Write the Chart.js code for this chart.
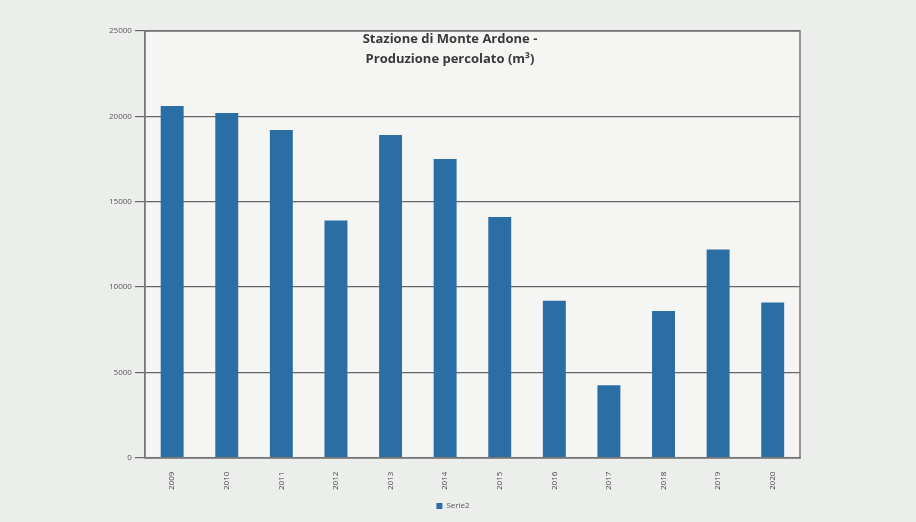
<!DOCTYPE html>
<html>
<head>
<meta charset="utf-8">
<script src="https://cdn.jsdelivr.net/npm/chart.js@4"></script>
<style>
    html, body { margin: 0; padding: 0; background: #eceeec; }
    .wrap { position: relative; width: 916px; height: 522px; }
    .chartTitle {
        position: absolute; left: 300px; top: 28px; width: 300px;
        text-align: center; font: bold 13px "Open Sans", sans-serif; color: #3a3a3a; line-height: 20px;
    }
</style>
</head>
<body>
<div class="wrap">
    <canvas id="perc" width="916" height="522"></canvas>
    <div class="chartTitle">Stazione di Monte Ardone -<br>Produzione percolato (m³)</div>
</div>
<script>
const years = ['2009', '2010', '2011', '2012', '2013', '2014', '2015', '2016', '2017', '2018', '2019', '2020']
const serie2 = [20600, 20200, 19200, 13900, 18900, 17500, 14100, 9200, 4250, 8600, 12200, 9100]
const yTicks = [0, 5000, 10000, 15000, 20000, 25000]

// frame round the plot area + light fill
const plotFrame = {
    id: 'plotFrame',
    beforeDraw(chart) {
        const {ctx, chartArea: a} = chart
        ctx.save()
        ctx.fillStyle = '#f5f5f3'
        ctx.fillRect(a.left, a.top, a.right - a.left, a.bottom - a.top)
        ctx.restore()
    },
    afterDraw(chart) {
        const {ctx, chartArea: a} = chart
        ctx.save()
        ctx.strokeStyle = '#777'
        ctx.lineWidth = 1.5
        ctx.strokeRect(a.left, a.top, a.right - a.left, a.bottom - a.top)
        ctx.restore()
    }
}

new Chart(document.getElementById('perc').getContext('2d'), {
    type: 'bar',
    data: {
        labels: years,
        datasets: [{
            label: 'Serie2',
            backgroundColor: '#2b6ea6',
            borderColor: '#2b6ea6',
            data: serie2,
            barPercentage: 0.84,
            categoryPercentage: 0.5
        }]
    },
    options: {
        responsive: false,
        animation: false,
        layout: {padding: {left: 106, right: 116, top: 31, bottom: 2}},
        plugins: {
            title: {display: false},
            tooltip: {enabled: false},
            legend: {
                position: 'bottom',
                labels: {
                    boxWidth: 6, boxHeight: 6, color: '#555',
                    font: {size: 8, family: 'Open Sans'}, padding: 6
                }
            }
        },
        scales: {
            x: {
                grid: {display: false},
                border: {color: '#777', width: 1.5},
                ticks: {
                    color: '#444', minRotation: 90, maxRotation: 90,
                    font: {size: 8, family: 'Open Sans'}, padding: 6
                }
            },
            y: {
                min: 0, max: 25000,
                afterBuildTicks: axis => { axis.ticks = yTicks.map(v => ({value: v})) },
                grid: {color: '#666', lineWidth: 1.2, tickLength: 10, tickColor: '#666'},
                border: {color: '#777', width: 1.5},
                ticks: {
                    color: '#555', font: {size: 8, family: 'Open Sans'}, padding: 3,
                    callback: v => String(v)
                }
            }
        }
    },
    plugins: [plotFrame]
})
</script>
</body>
</html>
